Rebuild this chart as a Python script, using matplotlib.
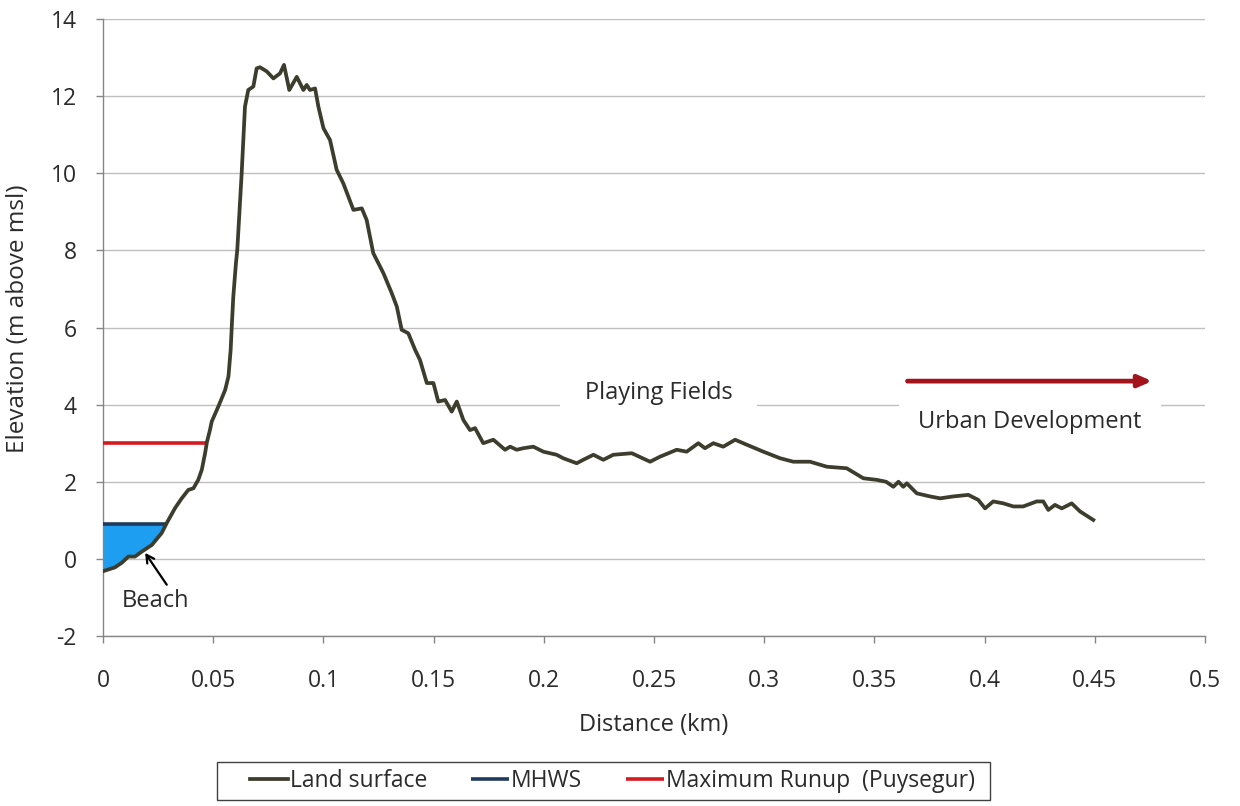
import matplotlib
matplotlib.use("Agg")
import matplotlib.pyplot as plt
from matplotlib.patches import Rectangle
import numpy as np

plt.rcParams['font.family'] = ['Open Sans', 'DejaVu Sans']
plt.rcParams['axes.unicode_minus'] = False

# Land surface profile (distance km, elevation m above msl)
dist_km = [0.0000, 0.0054, 0.0085, 0.0115, 0.0145, 0.0176, 0.0221, 0.0266, 0.0289,
           0.0327, 0.0357, 0.0387, 0.0410, 0.0432, 0.0448, 0.0463, 0.0471, 0.0485,
           0.0493, 0.0523, 0.0554, 0.0569, 0.0579, 0.0584, 0.0591, 0.0603, 0.0609,
           0.0629, 0.0644, 0.0659, 0.0682, 0.0697, 0.0712, 0.0743, 0.0773, 0.0803,
           0.0821, 0.0845, 0.0879, 0.0894, 0.0909, 0.0924, 0.0939, 0.0962, 0.0977,
           0.1000, 0.1030, 0.1060, 0.1090, 0.1136, 0.1174, 0.1196, 0.1226, 0.1272,
           0.1310, 0.1333, 0.1355, 0.1385, 0.1416, 0.1438, 0.1469, 0.1499, 0.1521,
           0.1552, 0.1582, 0.1605, 0.1635, 0.1665, 0.1688, 0.1725, 0.1771, 0.1824,
           0.1847, 0.1877, 0.1907, 0.1952, 0.1998, 0.2058, 0.2088, 0.2149, 0.2179,
           0.2225, 0.2270, 0.2315, 0.2399, 0.2482, 0.2527, 0.2603, 0.2648, 0.2701,
           0.2731, 0.2769, 0.2814, 0.2868, 0.2921, 0.2996, 0.3072, 0.3132, 0.3208,
           0.3284, 0.3374, 0.3450, 0.3510, 0.3553, 0.3586, 0.3609, 0.3631, 0.3647,
           0.3692, 0.3752, 0.3798, 0.3858, 0.3926, 0.3971, 0.4002, 0.4039, 0.4085,
           0.4130, 0.4175, 0.4236, 0.4266, 0.4289, 0.4319, 0.4350, 0.4395, 0.4433,
           0.4493]
elev_m = [-0.32, -0.22, -0.10, 0.06, 0.06, 0.19, 0.36, 0.67, 0.93,
          1.32, 1.57, 1.79, 1.83, 2.05, 2.31, 2.74, 3.02, 3.34,
          3.56, 3.95, 4.38, 4.73, 5.42, 6.02, 6.80, 7.67, 8.01,
          10.00, 11.73, 12.16, 12.25, 12.72, 12.75, 12.64, 12.46, 12.59,
          12.81, 12.16, 12.50, 12.33, 12.16, 12.29, 12.16, 12.20, 11.73,
          11.17, 10.86, 10.09, 9.74, 9.05, 9.09, 8.79, 7.93, 7.41,
          6.89, 6.54, 5.94, 5.85, 5.42, 5.16, 4.56, 4.56, 4.08,
          4.12, 3.82, 4.08, 3.60, 3.34, 3.39, 3.00, 3.09, 2.83,
          2.91, 2.83, 2.87, 2.91, 2.78, 2.70, 2.61, 2.48, 2.57,
          2.70, 2.57, 2.70, 2.74, 2.52, 2.65, 2.83, 2.78, 3.00,
          2.87, 3.00, 2.91, 3.09, 2.96, 2.78, 2.61, 2.52, 2.52,
          2.39, 2.35, 2.09, 2.05, 2.00, 1.87, 2.00, 1.87, 1.96,
          1.70, 1.62, 1.57, 1.62, 1.66, 1.53, 1.31, 1.49, 1.44,
          1.36, 1.36, 1.49, 1.49, 1.27, 1.40, 1.31, 1.44, 1.23,
          1.01]

mhws_level = 0.9
mhws_x = [0.0, 0.0289]
runup_level = 3.0
runup_x = [0.0, 0.0471]

x_ticks = [0, 0.05, 0.1, 0.15, 0.2, 0.25, 0.3, 0.35, 0.4, 0.45, 0.5]
x_tick_labels = ['0', '0.05', '0.1', '0.15', '0.2', '0.25', '0.3', '0.35', '0.4', '0.45', '0.5']
y_ticks = [-2, 0, 2, 4, 6, 8, 10, 12, 14]

land_color = '#3c3d2c'
mhws_color = '#1f3a5c'
runup_color = '#d71920'
fill_color = '#1e9ef0'
grid_color = '#bfbfbf'
text_color = '#2b2b2b'

FS = 16.5

fig = plt.figure(figsize=(12.4, 8.06), dpi=100)
ax = fig.add_axes([0.0831, 0.2109, 0.8887, 0.7655])

x = np.array(dist_km)
y = np.array(elev_m)

# Beach fill below MHWS
mask = x <= mhws_x[1] + 1e-9
ax.fill_between(x[mask], y[mask], mhws_level, color=fill_color, zorder=2, linewidth=0)

ax.plot(mhws_x, [mhws_level, mhws_level], color=mhws_color, lw=2.6, zorder=3,
        label='MHWS', solid_capstyle='butt')
ax.plot(runup_x, [runup_level, runup_level], color=runup_color, lw=2.6, zorder=3,
        label='Maximum Runup  (Puysegur)', solid_capstyle='butt')
ax.plot(x, y, color=land_color, lw=2.7, zorder=4, label='Land surface',
        solid_joinstyle='round')

ax.set_xlim(0, 0.5)
ax.set_ylim(-2, 14)
ax.set_xticks(x_ticks)
ax.set_xticklabels(x_tick_labels)
ax.set_yticks(y_ticks)
ax.yaxis.grid(True, color=grid_color, lw=1.0)
ax.set_axisbelow(True)

for side in ['top', 'right']:
    ax.spines[side].set_visible(False)
for side in ['left', 'bottom']:
    ax.spines[side].set_color('#868686')
    ax.spines[side].set_linewidth(1.0)
ax.tick_params(axis='both', colors='#868686', labelcolor=text_color, labelsize=FS,
               length=5, width=1.0, direction='out')
ax.tick_params(axis='x', pad=19)
ax.tick_params(axis='y', pad=14)

ax.set_xlabel('Distance (km)', fontsize=17, color=text_color)
ax.xaxis.set_label_coords(0.5, -0.124)
ax.set_ylabel('Elevation (m above msl)', fontsize=17.5, color=text_color)
ax.yaxis.set_label_coords(-0.066, 0.515)

# Annotations
ax.text(0.252, 4.30, 'Playing Fields', fontsize=17, color=text_color, ha='center',
        va='center', zorder=3,
        bbox=dict(boxstyle='square,pad=1.05', facecolor='white', edgecolor='none'))
ax.text(0.4206, 3.55, 'Urban Development', fontsize=17, color=text_color, ha='center',
        va='center', zorder=3,
        bbox=dict(boxstyle='square,pad=0.8', facecolor='white', edgecolor='none'))
ax.annotate('', xy=(0.476, 4.61), xytext=(0.365, 4.61),
            arrowprops=dict(arrowstyle='-|>,head_length=0.8,head_width=0.35',
                            color='#a3131b', lw=3.4, shrinkA=0, shrinkB=0), zorder=5)
ax.text(0.0236, -1.10, 'Beach', fontsize=17, color=text_color, ha='center',
        va='center', zorder=5)
ax.annotate('', xy=(0.0191, 0.155), xytext=(0.0289, -0.67),
            arrowprops=dict(arrowstyle='->,head_length=0.55,head_width=0.3', color='black',
                            lw=1.6, shrinkA=0, shrinkB=0), zorder=5)

handles, labels = ax.get_legend_handles_labels()
order = [2, 0, 1]
leg = fig.legend([handles[i] for i in order], [labels[i] for i in order],
                 loc='center', bbox_to_anchor=(0.494, 0.031), ncol=3, fontsize=FS,
                 frameon=False, handlelength=1.65, handletextpad=0.1,
                 columnspacing=1.9, borderpad=0.2)
for t in leg.get_texts():
    t.set_color(text_color)
fig.patches.append(Rectangle((217 / 1240, 1 - 800 / 806), 773 / 1240, 38 / 806,
                             transform=fig.transFigure, fill=False,
                             edgecolor='#404040', linewidth=1.0))

fig.savefig('out.png', dpi=100, facecolor='white')
